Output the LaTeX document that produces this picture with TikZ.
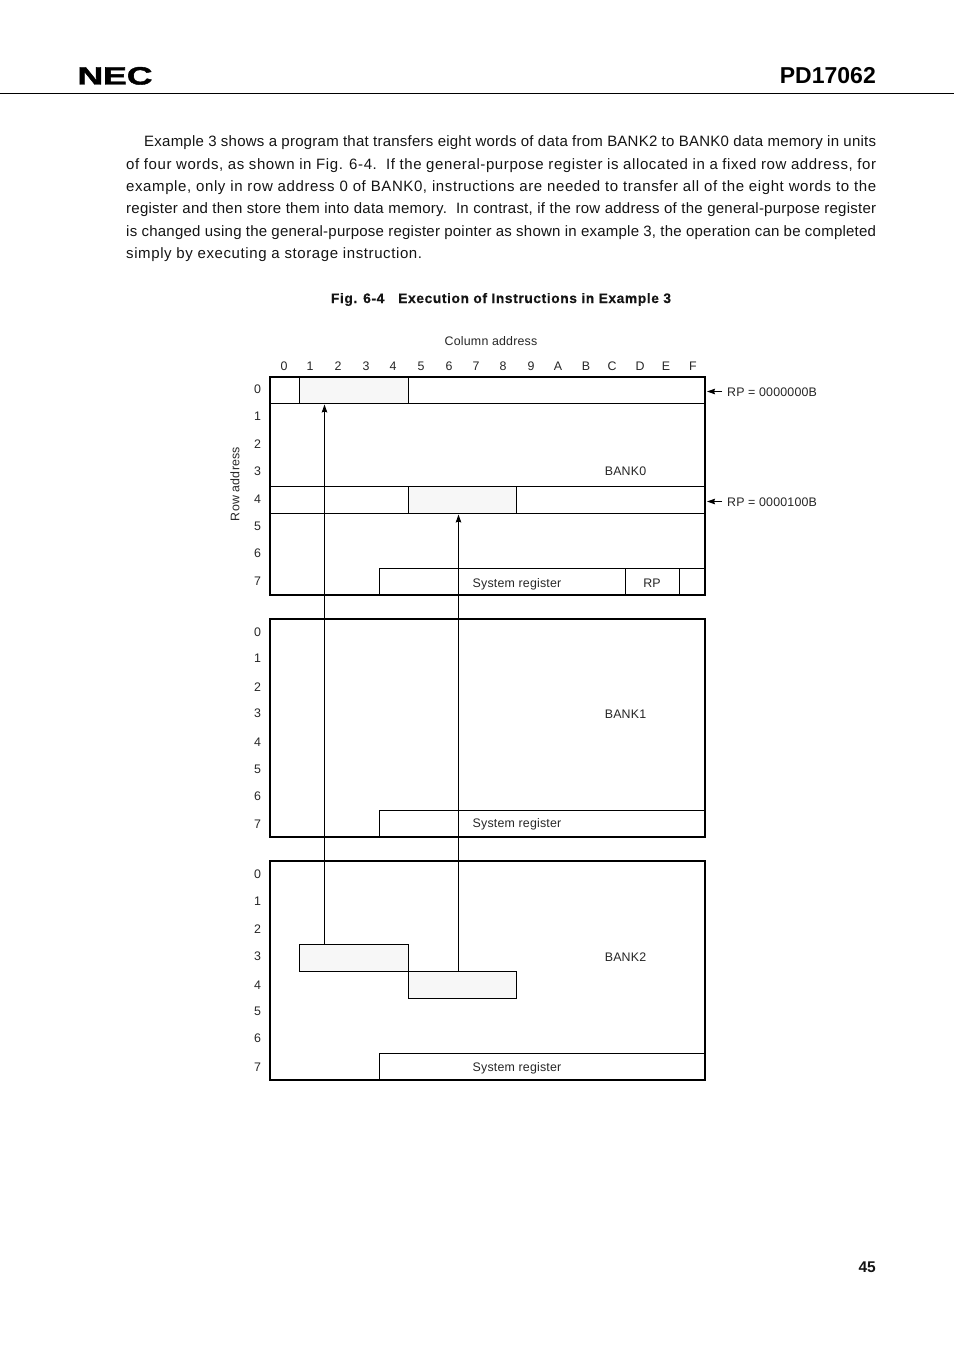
\documentclass[tikz,border=0pt]{standalone}
\usepackage{fontspec}
\setmainfont{Liberation Sans}
\newfontfamily\lblfont[LetterSpace=1.5]{Liberation Sans}
\newfontfamily\parafont[LetterSpace=4.0]{Liberation Sans}
\newfontfamily\tightfont[LetterSpace=1.6]{Liberation Sans}
\newfontfamily\capfont[LetterSpace=4.5,FakeBold=0.3]{Liberation Sans Bold}
\newfontfamily\logofont[FakeBold=1.6]{Liberation Sans Bold}
\usetikzlibrary{arrows.meta}
\tikzset{
  x=1pt,y=-1pt,
  lbl/.style={inner sep=0pt,font=\lblfont\fontsize{12.4}{14}\selectfont,text=black!85},
  para/.style={inner sep=0pt,anchor=base west,font=\fontsize{15}{17}\selectfont,text=black!92},
  bank/.style={draw,line width=2pt,outer sep=0pt,inner sep=0pt,anchor=north west},
  cell/.style={draw,line width=0.95pt},
  shade/.style={draw,line width=0.95pt,fill=black!3,outer sep=0pt,inner sep=0pt,anchor=north west,minimum height=27pt},
  up/.style={line width=0.95pt,-{Stealth[length=8pt,width=5.5pt,inset=1pt]}},
}
\newcommand{\jline}[4]{\node[para] (#1) at (126,#2) {#3\makebox[750pt][s]{#4}};}
\begin{document}
\begin{tikzpicture}
\useasboundingbox (0,0) rectangle (954,1351);
% header
\node[inner sep=0pt,font=\logofont\fontsize{25}{25}\selectfont,xscale=1.42,anchor=base] (nec) at (115,84.5) {NEC};
\node[inner sep=0pt,font=\bfseries\fontsize{23}{23}\selectfont,anchor=base east] (pd) at (876,83.5) {PD17062};
\coordinate (hl) at (0,93.5); \coordinate (hr) at (954,93.5);
\draw[line width=0.95pt] (hl) -- (hr);
% paragraph
\node[para] (p1) at (144,146.5) {\tightfont\makebox[732pt][s]{Example 3 shows a program that transfers eight words of data from BANK2 to BANK0 data memory in units}};
\jline{p2}{169.5}{\parafont}{of four words, as shown in Fig. 6-4.\ \ If the general-purpose register is allocated in a fixed row address, for}
\jline{p3}{191.5}{\parafont}{example, only in row address 0 of BANK0, instructions are needed to transfer all of the eight words to the}
\jline{p4}{213.5}{\tightfont}{register and then store them into data memory.\ \ In contrast, if the row address of the general-purpose register}
\jline{p5}{236.5}{\tightfont}{is changed using the general-purpose register pointer as shown in example 3, the operation can be completed}
\node[para] (p6) at (126,258.5) {\parafont simply by executing a storage instruction.};
\node[inner sep=0pt,font=\capfont\fontsize{13.75}{16}\selectfont,anchor=base,text=black!92] (cap) at (501,303) {Fig. 6-4\hspace{14pt}Execution of Instructions in Example 3};
% axis titles
\node[lbl,anchor=base] (ca) at (491,345) {Column address};
\node[lbl,rotate=90] (ra) at (235,484) {Row address};
% column labels
\foreach \t/\x in {0/284,1/310,2/338,3/366,4/393,5/421,6/449,7/476,8/503,9/531,A/558,B/586,C/612,D/640,E/666,F/693}
  \node[lbl,anchor=base] (col\t) at (\x,370) {\t};
% row labels
\foreach \b/\ys in {a/{393,420,448,475,503,530,557,585},b/{636,662,691,717,746,773,800,828},c/{878,905,933,960,989,1015,1042,1071}}{
  \foreach \y [count=\i from 0] in \ys
    \node[lbl,anchor=base] (row\b\i) at (257.5,\y) {\i};
}
% shaded cells
\node[shade,minimum width=109pt] (s0) at (299.5,376.5) {};
\node[shade,minimum width=108pt] (s1) at (408.5,486.5) {};
\node[shade,minimum width=109pt] (t0) at (299.5,944.5) {};
\node[shade,minimum width=108pt] (t1) at (408.5,971.5) {};
% row bands in BANK0
\coordinate (r0l) at (270,403.5); \coordinate (r0r) at (705,403.5);
\coordinate (r4l) at (270,486.5); \coordinate (r4r) at (705,486.5);
\coordinate (r5l) at (270,513.5); \coordinate (r5r) at (705,513.5);
\draw[cell] (r0l) -- (r0r);
\draw[cell] (r4l) -- (r4r);
\draw[cell] (r5l) -- (r5r);
% system registers
\draw[cell] (379.5,595) |- (705,568.5);
\draw[cell] (379.5,837) |- (705,810.5);
\draw[cell] (379.5,1080) |- (705,1053.5);
\draw[cell] (625.5,568.5) -- (625.5,595);
\draw[cell] (679.5,568.5) -- (679.5,595);
% banks
\node[bank,minimum width=435pt,minimum height=218.5pt] (b0) at (270,376.5) {};
\node[bank,minimum width=435pt,minimum height=218pt] (b1) at (270,619) {};
\node[bank,minimum width=435pt,minimum height=219pt] (b2) at (270,861) {};
% labels in banks
\node[lbl,anchor=base] (l0) at (625.5,475) {BANK0};
\node[lbl,anchor=base] (l1) at (625.5,718) {BANK1};
\node[lbl,anchor=base] (l2) at (625.5,961) {BANK2};
\node[lbl,anchor=base] (sr0) at (517,587) {System register};
\node[lbl,anchor=base] (sr1) at (517,827) {System register};
\node[lbl,anchor=base] (sr2) at (517,1071) {System register};
\node[lbl,anchor=base] (rp) at (652,587) {RP};
% arrows
\draw[up] (t0.north -| 324.5,0) -- (324.5,404.5);
\draw[up] (t1.north -| 458.5,0) -- (458.5,514.5);
\node[lbl,anchor=base west] (rpa) at (727,396) {RP = 0000000B};
\node[lbl,anchor=base west] (rpb) at (727,506) {RP = 0000100B};
\draw[up] (rpa.west |- 0,391.5) ++(-5,0) -- (707,391.5);
\draw[up] (rpb.west |- 0,501.5) ++(-5,0) -- (707,501.5);
% page number
\node[inner sep=0pt,font=\bfseries\fontsize{15.5}{16}\selectfont,anchor=base east,text=black!92] (pg) at (876,1272.5) {45};
\end{tikzpicture}
\end{document}
